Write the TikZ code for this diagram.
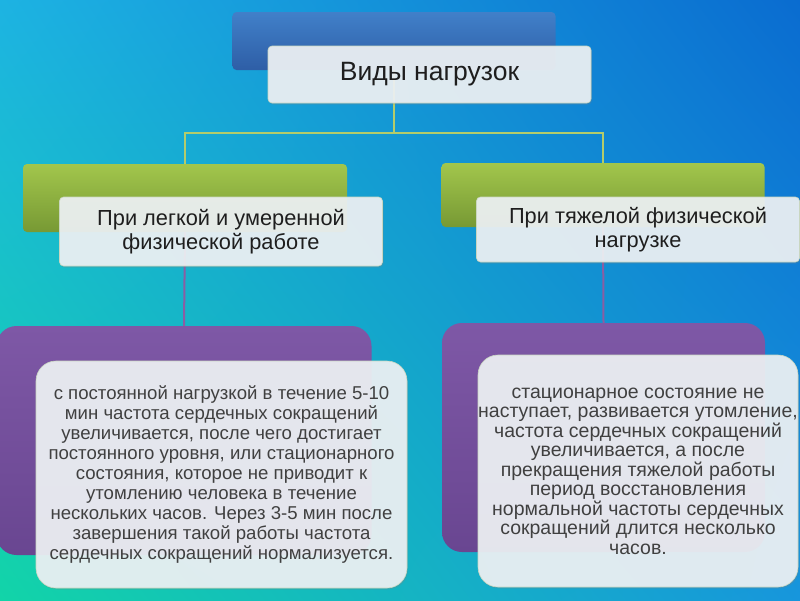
\documentclass[tikz,border=0pt]{standalone}
\usepackage{fontspec}
\setmainfont{Liberation Sans}
\usetikzlibrary{shadows,shadings}

\definecolor{bgtl}{HTML}{1DB3E2}
\definecolor{bgtr}{HTML}{0A6CD0}
\definecolor{bgbl}{HTML}{12D4A8}
\definecolor{bgbr}{HTML}{1796DC}
\definecolor{bluetop}{HTML}{4180C9}
\definecolor{bluebot}{HTML}{2E5EA6}
\definecolor{greentop}{HTML}{A2C64C}
\definecolor{greenbot}{HTML}{779934}
\definecolor{purpletop}{HTML}{7E58A6}
\definecolor{purplebot}{HTML}{694691}
\definecolor{frontfill}{HTML}{EEF2F5}
\definecolor{frontline}{HTML}{C9D6C0}
\definecolor{toplink}{HTML}{B3CC6B}
\definecolor{lowlink}{HTML}{8B5EA3}
\definecolor{ink}{HTML}{1E1E1E}

\tikzset{
  backbox/.style={rounded corners=4pt, minimum width=323pt, inner sep=0pt},
  frontbox/.style={rounded corners=4pt, minimum width=323pt, inner sep=0pt,
    fill=frontfill, fill opacity=0.92, text opacity=1, draw=frontline, line width=0.6pt,
    drop shadow={shadow xshift=1pt, shadow yshift=-1.5pt, opacity=0.25},
    text=ink, align=center},
  notebox/.style={frontbox, rounded corners=20pt, text=ink!85},
  toplink/.style={draw=toplink, line width=2.5pt},
  lowlink/.style={draw=lowlink, line width=2pt}
}

\begin{document}
\begin{tikzpicture}[x=1pt,y=-1pt]
\clip (0,0) rectangle (800,600);
\shade[upper left=bgtl, upper right=bgtr, lower left=bgbl, lower right=bgbr]
  (0,0) rectangle (800,600);

% coloured boxes behind
\node[backbox, minimum height=58pt, top color=bluetop, bottom color=bluebot] (kindback) at (394,41) {};
\node[backbox, minimum width=324pt, minimum height=68pt, top color=greentop, bottom color=greenbot] (lightback) at (185,198) {};
\node[backbox, minimum height=64pt, top color=greentop, bottom color=greenbot] (heavyback) at (603,195) {};
\node[backbox, rounded corners=20pt, minimum width=375pt, minimum height=229pt, top color=purpletop, bottom color=purplebot] (lightnoteback) at (184,440.5) {};
\node[backbox, rounded corners=20pt, minimum height=229pt, top color=purpletop, bottom color=purplebot] (heavynoteback) at (603.5,437.5) {};

% connectors
\coordinate (fork) at (394,133);
\draw[toplink] (kindback.south) -- (fork) -| (lightback.north);
\draw[toplink] (fork) -| (heavyback.north);
\draw[lowlink] (lightback.south) -- (lightnoteback.north);
\draw[lowlink] (heavyback.south) -- (heavynoteback.north);

% text boxes in front
\node[frontbox, minimum height=57pt, font=\fontsize{26.5}{30}\selectfont] (kind) at (429.5,74.5) {Виды нагрузок};
\node[frontbox, minimum height=69pt, font=\fontsize{21.8}{24.5}\selectfont] (light) at (221,231.5)
  {При легкой и умеренной\\физической работе};
\node[frontbox, minimum height=65pt, font=\fontsize{21.8}{24.5}\selectfont] (heavy) at (638,229.5)
  {При тяжелой физической\\нагрузке};
\node[notebox, minimum width=371pt, minimum height=227pt, font=\fontsize{18.6}{20.1}\selectfont] (lightnote) at (221.5,474.5)
  {с постоянной нагрузкой в течение 5-10\\мин частота сердечных сокращений\\увеличивается, после чего достигает\\постоянного уровня, или стационарного\\состояния, которое не приводит к\\утомлению человека в течение\\нескольких часов. Через 3-5 мин после\\завершения такой работы частота\\сердечных сокращений нормализуется.};
\node[notebox, minimum width=320pt, minimum height=232pt, font=\fontsize{19.5}{19.5}\selectfont] (heavynote) at (638,471)
  {стационарное состояние не\\наступает, развивается утомление,\\частота сердечных сокращений\\увеличивается, а после\\прекращения тяжелой работы\\период восстановления\\нормальной частоты сердечных\\сокращений длится несколько\\часов.};
\end{tikzpicture}
\end{document}
